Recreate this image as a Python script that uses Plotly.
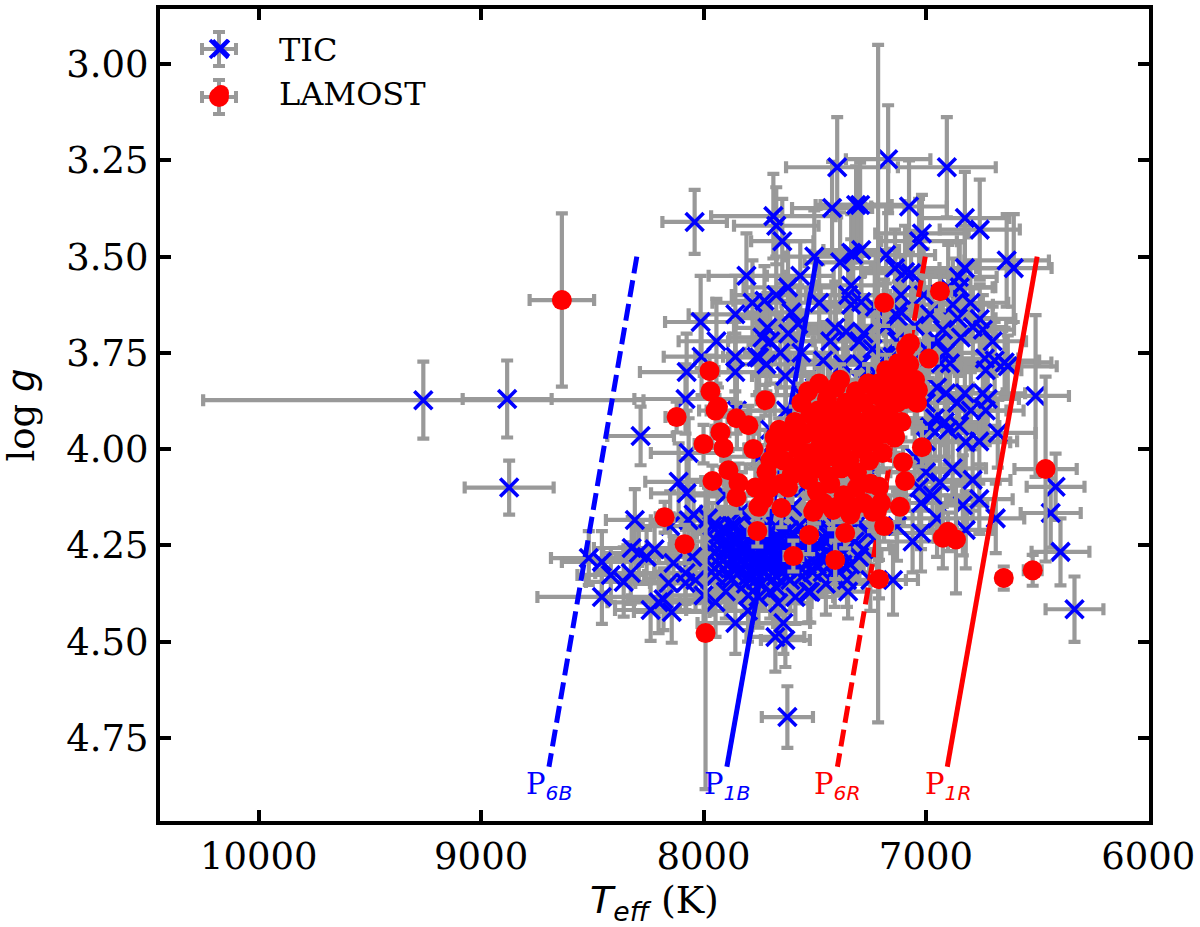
import plotly.graph_objects as go

# ---- TIC: scattered stars
tic_teff = [
 7399,7422,7314,8040,7686,7673,7646,7502,7386,7336,
 7807,7565,7336,7673,7726,7336,7857,7605,8013,7574,
 7713,7408,7359,7619,7735,7942,7655,7857,7762,7750,
 7717,7462,7372,8076,7857,7632,8081,8009,7170,6906,
 7296,7076,6825,6758,7018,7031,6637,6605,7327,7291,
 7179,7139,7094,7067,6825,6852,6848,7112,7291,6879,
 6982,7126,6857,6758,6789,6924,6744,6843,6946,6910,
 6735,6691,6646,6731,6632,6892,6933,6507,6910,6825,
 6744,6722,9260,8883,8874,8283,8067,8112,8076,8309,
 8045,8067,7937,7874,8516,8457,8417,8359,8327,8323,
 8291,8256,8157,8135,8081,8081,8036,8457,8238,8202,
 8143,7946,7857,7798,7753,7664,7587,7520,7641,7677,
 7632,7623,6821,6677,6798,6731,6937,6834,7022,7022,
 6821,6686,6417,6439,6395,6332,7148,7529,6915,6982,
]
tic_logg = [
 3.268,3.374,3.366,3.41,3.395,3.42,3.46,3.50,3.515,3.49,
 3.55,3.55,3.575,3.60,3.615,3.625,3.65,3.645,3.67,3.675,
 3.685,3.685,3.695,3.70,3.71,3.72,3.75,3.76,3.76,3.762,
 3.78,3.77,3.78,3.80,3.80,3.81,3.87,3.76,3.247,3.268,
 3.366,3.37,3.40,3.43,3.44,3.46,3.51,3.53,3.495,3.483,
 3.496,3.53,3.54,3.543,3.53,3.553,3.58,3.60,3.618,3.625,
 3.65,3.655,3.66,3.662,3.683,3.69,3.69,3.71,3.72,3.75,
 3.765,3.77,3.775,3.795,3.785,3.777,3.777,3.862,3.855,3.855,
 3.855,3.87,3.873,3.87,4.10,3.966,4.01,4.085,4.115,4.184,
 4.17,4.185,4.20,4.20,4.283,4.293,4.327,4.345,4.322,4.257,
 4.27,4.28,4.348,4.296,4.322,4.348,4.34,4.384,4.418,4.398,
 4.423,4.398,4.452,4.38,4.384,4.40,4.384,4.371,4.452,4.488,
 4.496,4.696,3.982,3.958,3.90,3.90,4.086,4.146,4.14,4.218,
 4.21,4.18,4.098,4.166,4.267,4.416,4.34,4.37,3.93,3.943,
]
tic_teff_err = [
 230,180,160,145,280,190,140,130,160,170,
 170,150,160,200,140,130,210,200,160,170,
 150,190,170,140,150,170,160,180,150,140,
 170,130,180,210,160,150,230,170,190,220,
 200,170,200,180,210,170,190,170,190,170,
 220,200,180,210,190,170,160,190,170,180,
 180,160,170,160,150,170,140,160,190,170,
 150,200,210,160,220,170,160,150,160,170,
 190,140,990,200,200,150,170,150,160,130,
 150,170,160,140,170,180,150,170,160,170,
 160,140,150,170,140,160,150,290,160,230,
 170,160,170,140,160,150,170,150,120,130,
 110,115,200,170,160,170,170,110,170,110,
 120,128,130,135,130,130,112,130,160,170,
]
tic_logg_err = [
 .13,.12,.10,.083,.11,.10,.11,.12,.13,.10,
 .11,.09,.12,.10,.09,.11,.10,.09,.12,.10,
 .09,.12,.10,.10,.09,.11,.09,.09,.10,.09,
 .09,.10,.09,.10,.10,.09,.09,.10,.14,.13,
 .11,.12,.12,.13,.10,.11,.12,.14,.11,.12,
 .13,.10,.12,.11,.11,.09,.12,.10,.12,.12,
 .10,.09,.10,.09,.10,.11,.09,.10,.10,.09,
 .09,.10,.09,.10,.08,.09,.09,.21,.10,.09,
 .11,.10,.10,.10,.07,.076,.09,.10,.09,.08,
 .09,.08,.09,.08,.07,.08,.07,.09,.08,.08,
 .08,.07,.08,.07,.08,.07,.08,.07,.08,.08,
 .08,.09,.08,.09,.08,.08,.07,.08,.08,.09,
 .07,.08,.10,.09,.10,.09,.11,.13,.12,.10,
 .10,.09,.086,.09,.087,.085,.09,.08,.09,.10,
]

# ---- TIC: dense main-sequence clump and the group hidden under the red points
clump_teff = [
 7940,7925,7910,7900,7885,7870,7860,7850,7840,7830,
 7820,7810,7800,7795,7785,7775,7765,7755,7745,7735,
 7725,7715,7705,7695,7685,7675,7665,7655,7645,7635,
 7625,7615,7605,7595,7585,7575,7565,7555,7545,7535,
 7930,7890,7845,7805,7760,7720,7680,7640,7600,7560,
 7950,7875,7790,7740,7670,7610,7515,7490,7470,7450,
 7370,7340,7320,7300,7280,7430,7410,7390,7355,7260,
 7700,7650,7600,7550,7500,7450,7400,7350,7300,7250,
 7750,7700,7630,7560,7500,7440,7380,7300,7230,7160,
 7100,7050,7000,6960,7000,7050,7000,6970,7030,7250,
 7130,7180,7240,7280,7050,7000,7290,7150,6900,6860,
 7960,7945,7930,7915,7900,7885,7870,7855,7840,7825,
 7810,7795,7780,7765,7750,7735,7720,7705,7690,7675,
 7660,7645,7630,7615,7600,7585,7570,7555,7540,7525,
 7510,7495,7480,7465,7450,7435,7420,7405,7390,7375,
 7935,7905,7875,7845,7815,7785,7755,7725,7695,7665,
 7635,7605,7575,7545,7515,7485,7455,7425,7395,7365,
 7950,7920,7880,7835,7800,7770,7730,7690,7650,7590,
 7780,7620,7480,7350,7230,7120,7010,6900,6800,6700,
 7850,7700,7560,7430,7300,7180,7060,6950,6850,6760,
 8150,7980,7900,7830,7130,7060,6950,6880,6790,6760,
 8220,8180,8050,8000,7900,7800,7700,7450,7350,7250,
]
clump_logg = [
 4.24,4.28,4.31,4.26,4.33,4.29,4.23,4.27,4.32,4.25,
 4.30,4.35,4.22,4.27,4.31,4.25,4.34,4.29,4.23,4.27,
 4.32,4.25,4.30,4.21,4.27,4.33,4.24,4.29,4.22,4.26,
 4.31,4.25,4.29,4.22,4.27,4.32,4.24,4.28,4.23,4.30,
 4.30,4.25,4.30,4.26,4.32,4.29,4.23,4.30,4.26,4.31,
 4.27,4.34,4.34,4.35,4.36,4.34,4.26,4.30,4.25,4.22,
 4.27,4.30,4.24,4.28,4.26,4.30,4.33,4.24,4.34,4.22,
 4.12,4.05,4.15,4.10,4.18,4.12,4.20,4.16,4.19,4.12,
 4.02,3.95,3.90,3.86,3.84,3.88,3.85,3.82,3.80,3.84,
 3.80,3.84,3.88,3.92,3.98,4.02,4.06,4.12,4.10,4.06,
 3.72,3.68,3.74,3.70,3.68,3.74,3.78,3.76,3.95,3.88,
 4.20,4.33,4.22,4.29,4.21,4.26,4.31,4.20,4.28,4.22,
 4.28,4.24,4.20,4.27,4.31,4.21,4.26,4.33,4.24,4.20,
 4.30,4.26,4.33,4.21,4.31,4.24,4.20,4.33,4.27,4.22,
 4.32,4.21,4.28,4.32,4.27,4.21,4.26,4.31,4.20,4.30,
 4.26,4.24,4.25,4.24,4.25,4.23,4.24,4.23,4.29,4.27,
 4.24,4.23,4.27,4.25,4.24,4.25,4.29,4.23,4.28,4.22,
 4.31,4.21,4.23,4.26,4.33,4.29,4.30,4.26,4.32,4.29,
 3.62,3.58,3.62,3.60,3.63,3.64,3.60,3.58,3.62,3.72,
 3.90,3.72,3.75,3.72,3.72,3.76,3.80,3.84,3.94,3.98,
 4.20,4.18,4.12,4.16,4.20,4.24,4.18,4.05,4.08,4.13,
 4.26,4.39,4.28,4.38,4.37,4.42,4.37,4.35,4.37,4.34,
]
clump_teff_err = [
 110,120,100,130,110,120,100,110,130,120,
 100,110,130,120,100,110,120,100,130,110,
 120,100,110,130,120,100,110,130,120,100,
 110,120,100,130,110,120,100,110,130,120,
 120,100,110,130,100,120,110,100,130,110,
 120,110,130,100,110,120,130,110,120,100,
 130,120,110,100,120,130,110,120,100,130,
 150,160,140,170,150,160,140,150,170,160,
 170,150,160,140,170,150,160,180,150,170,
 160,150,170,160,180,150,160,170,150,160,
 170,160,180,150,170,160,150,170,160,170,
 110,120,100,130,110,120,100,110,130,120,
 100,110,130,120,100,110,120,100,130,110,
 120,100,110,130,120,100,110,130,120,100,
 110,120,100,130,110,120,100,110,130,120,
 120,100,110,130,100,120,110,100,130,110,
 120,110,130,100,110,120,130,110,120,100,
 130,120,110,100,120,130,110,120,100,130,
 180,200,170,190,210,170,180,200,170,150,
 170,190,160,180,200,170,190,160,180,170,
 150,170,160,180,150,170,160,150,170,150,
 140,160,150,170,140,160,150,170,140,160,
]
clump_logg_err = [
 .06,.07,.06,.07,.08,.06,.07,.06,.07,.06,
 .07,.08,.06,.07,.06,.07,.08,.06,.07,.06,
 .07,.06,.07,.06,.08,.07,.06,.07,.06,.07,
 .06,.07,.08,.06,.07,.06,.07,.06,.07,.08,
 .06,.07,.06,.07,.08,.06,.07,.06,.07,.06,
 .07,.08,.07,.06,.07,.08,.07,.06,.07,.08,
 .07,.06,.08,.07,.06,.07,.08,.06,.07,.08,
 .09,.10,.09,.08,.10,.09,.08,.10,.09,.08,
 .10,.09,.10,.08,.09,.10,.09,.10,.09,.10,
 .09,.10,.09,.10,.09,.08,.10,.09,.10,.09,
 .10,.11,.10,.09,.11,.10,.09,.10,.09,.10,
 .06,.07,.06,.07,.08,.06,.07,.06,.07,.06,
 .07,.08,.06,.07,.06,.07,.08,.06,.07,.06,
 .07,.06,.07,.06,.08,.07,.06,.07,.06,.07,
 .06,.07,.08,.06,.07,.06,.07,.06,.07,.08,
 .06,.07,.06,.07,.08,.06,.07,.06,.07,.06,
 .07,.08,.07,.06,.07,.08,.07,.06,.07,.08,
 .07,.06,.08,.07,.06,.07,.08,.06,.07,.08,
 .11,.12,.10,.12,.11,.10,.12,.11,.10,.09,
 .10,.11,.10,.12,.10,.11,.10,.09,.10,.11,
 .09,.08,.09,.10,.09,.08,.10,.09,.08,.09,
 .07,.08,.07,.08,.07,.08,.07,.08,.07,.08,
]

# ---- LAMOST: isolated stars
lam_teff = [
 8637,7215,7991,6462,8175,8085,8121,8000,7960,6650,
 6520,6924,6901,6865,7188,6937,6987,7072,7090,7179,
 7126,7386,7260,7049,7036,7946,7935,7852,7798,7924,
 7910,7776,7888,7717,7843,7852,7767,7753,7650,7758,
 7525,7596,7677,7605,7560,7498,7018,7103,7094,7117,
 7211,7202,7238,7188,7211,7363,7408,7507,7417,7327,
 7139,7973,7969,7722,
]
lam_logg = [
 3.613,3.83,4.478,4.052,4.177,4.247,3.917,3.987,4.083,4.335,
 4.315,4.23,4.215,4.235,3.62,3.59,3.765,3.725,3.738,3.795,
 3.777,3.82,3.83,3.82,3.847,3.90,3.89,3.92,3.938,3.956,
 3.997,4.00,4.055,4.06,4.088,4.125,4.10,4.15,4.153,4.213,
 4.223,4.278,4.00,4.068,4.037,4.153,3.995,4.034,4.083,4.15,
 4.098,4.14,4.163,4.20,4.338,4.218,4.288,4.163,4.158,4.15,
 3.968,3.797,3.85,3.873,
]
lam_teff_err = [
 145,30,25,140,40,40,50,40,50,30,
 40,40,40,40,40,50,40,40,30,40,
 30,40,30,40,30,40,30,40,30,40,
 30,40,30,40,30,40,30,40,30,40,
 30,40,30,40,30,40,30,40,30,40,
 30,40,30,40,30,40,30,40,30,40,
 30,40,30,40,
]
lam_logg_err = [
 .225,.88,.405,.24,.04,.05,.04,.05,.04,.03,
 .04,.08,.05,.14,.06,.05,.05,.04,.05,.04,
 .05,.04,.05,.04,.05,.04,.05,.04,.05,.04,
 .05,.04,.05,.04,.05,.04,.05,.04,.05,.04,
 .05,.04,.05,.04,.05,.04,.05,.04,.05,.04,
 .05,.04,.05,.04,.05,.04,.05,.04,.05,.04,
 .05,.04,.05,.04,
]

# ---- LAMOST: dense core
core_teff = [
 7640,7620,7600,7590,7575,7560,7550,7540,7530,7520,
 7510,7500,7495,7485,7475,7465,7455,7445,7440,7430,
 7420,7410,7405,7395,7385,7380,7370,7360,7350,7345,
 7335,7325,7315,7310,7300,7290,7280,7270,7260,7255,
 7245,7235,7225,7215,7205,7195,7190,7180,7170,7160,
 7150,7140,7130,7120,7110,7100,7090,7075,7060,7040,
 7490,7460,7430,7400,7370,7340,7310,7280,7250,7220,
 7570,7535,7475,7415,7355,7295,7235,7175,7115,7440,
 7700,7680,7650,7620,7600,7700,7730,7660,7530,7480,
]
core_logg = [
 4.03,3.98,4.06,3.93,4.00,3.88,4.04,3.96,4.08,3.91,
 4.01,3.95,4.05,3.90,3.99,4.03,3.94,3.87,4.07,3.98,
 3.93,4.02,3.84,3.90,3.96,4.05,3.99,3.88,3.94,4.03,
 3.91,3.97,3.85,4.06,3.93,4.00,3.88,3.96,3.83,4.03,
 3.91,3.98,3.86,3.94,3.84,4.01,3.90,3.96,3.85,3.92,
 3.82,3.97,3.88,3.83,3.93,3.80,3.87,3.78,3.84,3.88,
 4.11,4.14,4.09,4.15,4.12,4.17,4.10,4.14,4.09,4.16,
 3.95,4.01,3.94,3.97,3.98,3.97,3.92,3.89,3.86,3.91,
 4.03,3.97,4.09,4.10,3.97,4.10,4.13,3.95,3.85,3.83,
]
core_teff_err = [
 30,40,35,30,45,30,40,35,30,40,
 35,30,45,30,40,35,30,40,35,30,
 45,30,40,35,30,40,35,30,45,30,
 40,35,30,40,35,30,45,30,40,35,
 30,40,35,30,45,30,40,35,30,40,
 35,30,45,30,40,35,30,40,35,30,
 45,30,40,35,30,40,35,30,45,30,
 40,35,30,40,35,30,45,30,40,35,
 30,40,35,30,45,30,40,35,30,40,
]
core_logg_err = [
 .04,.03,.05,.04,.03,.05,.04,.03,.05,.04,
 .03,.05,.04,.03,.05,.04,.03,.05,.04,.03,
 .05,.04,.03,.05,.04,.03,.05,.04,.03,.05,
 .04,.03,.05,.04,.03,.05,.04,.03,.05,.04,
 .03,.05,.04,.03,.05,.04,.03,.05,.04,.03,
 .05,.04,.03,.05,.04,.03,.05,.04,.03,.05,
 .04,.03,.05,.04,.03,.05,.04,.03,.05,.04,
 .03,.05,.04,.03,.05,.04,.03,.05,.04,.03,
 .04,.03,.05,.04,.03,.05,.04,.03,.05,.04,
]

# ---- pulsation-edge lines
p6b_teff = [8300, 8695]
p1b_teff = [7490, 7895]
p6r_teff = [7003, 7398]
p1r_teff = [6500, 6904]
edge_logg = [3.50, 4.825]

x_ticks = [10000, 9000, 8000, 7000, 6000]
y_ticks = [3.00, 3.25, 3.50, 3.75, 4.00, 4.25, 4.50, 4.75]

GREY = "#999999"
SERIF = "DejaVu Serif"
SUB = '<span style="font-family:\'DejaVu Sans\'"><i>%s</i></span>'

fig = go.Figure()

fig.add_trace(go.Scatter(
    x=tic_teff + clump_teff, y=tic_logg + clump_logg, mode="markers", name="TIC",
    legendgroup="a",
    marker=dict(symbol="x-thin", size=18, color="blue", line=dict(width=3.6, color="blue")),
    error_x=dict(type="data", array=tic_teff_err + clump_teff_err, color=GREY, thickness=4.2, width=6),
    error_y=dict(type="data", array=tic_logg_err + clump_logg_err, color=GREY, thickness=4.2, width=6),
))

for xs, col, dash in [(p6b_teff, "blue", "17px,7px"), (p1b_teff, "blue", "solid"),
                      (p6r_teff, "red", "17px,7px"), (p1r_teff, "red", "solid")]:
    fig.add_trace(go.Scatter(x=xs, y=edge_logg, mode="lines", showlegend=False,
                             line=dict(color=col, width=5, dash=dash)))

fig.add_trace(go.Scatter(
    x=lam_teff + core_teff, y=lam_logg + core_logg, mode="markers", name="LAMOST",
    legendgroup="b",
    marker=dict(symbol="circle", size=20, color="red"),
    error_x=dict(type="data", array=lam_teff_err + core_teff_err, color=GREY, thickness=4.2, width=6),
    error_y=dict(type="data", array=lam_logg_err + core_logg_err, color=GREY, thickness=4.2, width=6),
))

# edge labels
for txt, sub, x, col in [("P", "6B", 8695, "blue"), ("P", "1B", 7895, "blue"),
                         ("P", "6R", 7396, "red"), ("P", "1R", 6897, "red")]:
    fig.add_annotation(x=x, y=4.875, xref="x", yref="y", showarrow=False,
                       text=f"{txt}<sub>{SUB % sub}</sub>",
                       font=dict(family=SERIF, size=29, color=col))

# legend glyphs: grey whiskers and full-size symbols, since legend items draw no
# error bars and cap their marker size
L, T, W, H = 160, 9, 989, 812
def px(x): return (x - L) / W
def py(y): return 1 - (y - T) / H
shapes = []
cx = 219
legend_rows = (49, 97)
for cy in legend_rows:
    segs = [((cx-17, cy), (cx+17, cy)), ((cx, cy-17), (cx, cy+17)),
            ((cx-17, cy-6), (cx-17, cy+6)), ((cx+17, cy-6), (cx+17, cy+6)),
            ((cx-6, cy-17), (cx+6, cy-17)), ((cx-6, cy+17), (cx+6, cy+17))]
    for (a, b), (c, d) in segs:
        shapes.append(dict(type="line", xref="paper", yref="paper", x0=px(a), y0=py(b), x1=px(c), y1=py(d),
                           line=dict(color=GREY, width=4), layer="above"))
cy = legend_rows[0]
for sign in (1, -1):
    shapes.append(dict(type="line", xref="paper", yref="paper",
                       x0=px(cx-9), y0=py(cy-9*sign), x1=px(cx+9), y1=py(cy+9*sign),
                       line=dict(color="blue", width=3.6), layer="above"))
cy = legend_rows[1]
shapes.append(dict(type="circle", xref="paper", yref="paper",
                   x0=px(cx-10), y0=py(cy-10), x1=px(cx+10), y1=py(cy+10),
                   fillcolor="red", line=dict(width=0), layer="above"))

axis_common = dict(showgrid=False, zeroline=False, showline=True, linecolor="black", linewidth=4,
                   mirror="ticks", ticks="inside", ticklen=11, tickwidth=4, tickcolor="black",
                   tickfont=dict(family=SERIF, size=37, color="black"))

fig.update_layout(
    width=1200, height=927, autosize=False,
    margin=dict(l=L, r=1200 - L - W, t=T, b=927 - T - H, autoexpand=False),
    paper_bgcolor="white", plot_bgcolor="white",
    shapes=shapes,
    xaxis=dict(range=[10444, 5997], tickvals=x_ticks, tickformat="d",
               title=dict(text="<span style=\"font-family:'DejaVu Sans'\"><i>T<sub>eff</sub></i></span> (K)",
                          font=dict(family=SERIF, size=38, color="black"), standoff=10),
               **axis_common),
    yaxis=dict(range=[4.966, 2.857], tickvals=y_ticks, tickformat=".2f",
               title=dict(text="log <span style=\"font-family:'DejaVu Sans'\"><i>g</i></span>",
                          font=dict(family=SERIF, size=37, color="black"), standoff=24),
               **axis_common),
    legend=dict(x=px(163), y=py(21), xanchor="left", yanchor="top", bgcolor="rgba(0,0,0,0)",
                borderwidth=0, font=dict(family=SERIF, size=32, color="black"),
                tracegroupgap=22, itemwidth=106, traceorder="normal"),
)

fig.write_html("out.html", config=dict(displayModeBar=False),
               post_script="document.body.style.margin='0';")
